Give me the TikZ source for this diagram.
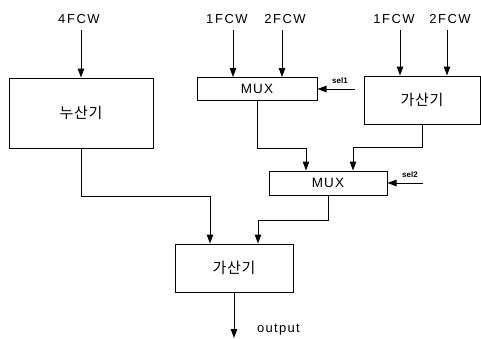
\documentclass[tikz,border=0pt]{standalone}
\usepackage{fontspec}
\setmainfont{Liberation Sans}
\newfontfamily\kor{Noto Sans CJK KR}
\usetikzlibrary{arrows.meta,calc}
\begin{document}
\begin{tikzpicture}[x=1pt,y=-1pt,
  blk/.style={draw,line width=1pt,inner sep=0pt},
  lbl/.style={inner sep=0pt,font=\fontsize{13}{13}\selectfont\addfontfeature{LetterSpace=12}},
  kortxt/.style={font=\kor\fontsize{15}{15}\selectfont\addfontfeature{LetterSpace=4}},
  seltxt/.style={inner sep=0pt,font=\bfseries\fontsize{8}{8}\selectfont},
  arr/.style={line width=1pt,-{Triangle[length=9pt,width=6.5pt]}},
  ln/.style={line width=1pt}]
\useasboundingbox (0,0) rectangle (481,338);
% boxes
\node[blk,minimum width=144pt,minimum height=70pt,kortxt] (acc) at (81,113) {누산기};
\node[blk,minimum width=120pt,minimum height=23pt,font=\fontsize{13.5}{13.5}\selectfont\addfontfeature{LetterSpace=8}] (mux1) at (257,89) {MUX};
\node[blk,minimum width=116pt,minimum height=48pt,kortxt] (add1) at (422,100) {가산기};
\node[blk,minimum width=118pt,minimum height=24pt,font=\fontsize{13.5}{13.5}\selectfont\addfontfeature{LetterSpace=8}] (mux2) at (328,183) {MUX};
\node[blk,minimum width=118pt,minimum height=48pt,kortxt] (add2) at (234,268) {가산기};
% input labels
\node[lbl] (l4) at (79,19) {4FCW};
\node[lbl] (l1a) at (227,19) {1FCW};
\node[lbl] (l2a) at (285,19) {2FCW};
\node[lbl] (l1b) at (394,19) {1FCW};
\node[lbl] (l2b) at (450,19) {2FCW};
\node[seltxt] (s1) at (340,81) {sel1};
\node[seltxt] (s2) at (410,175) {sel2};
\node[inner sep=0pt,anchor=west,font=\fontsize{13}{13}\selectfont\addfontfeature{LetterSpace=10}] (outl) at (257,330) {output};
% input arrow start points
\coordinate (i4) at (81,30);
\coordinate (i1a) at (233,30);
\coordinate (i2a) at (282,30);
\coordinate (i1b) at (400,30);
\coordinate (i2b) at (447,30);
\draw[arr] (i4) -- (acc.north);
\draw[arr] (i1a) -- (i1a |- mux1.north);
\draw[arr] (i2a) -- (i2a |- mux1.north);
\draw[arr] (i1b) -- (i1b |- add1.north);
\draw[arr] (i2b) -- (i2b |- add1.north);
\coordinate (s1e) at (355,89);
\coordinate (s2e) at (423,183);
\draw[arr] (s1e) -- (mux1.east);
\draw[arr] (s2e) -- (mux2.east);
% internal connections
\draw[arr] (mux1.south) -- ++(0,47) -| ([xshift=-22pt]mux2.north);
\draw[arr] (add1.south) -- ++(0,23) -| ([xshift=25pt]mux2.north);
\draw[arr] (mux2.south) -- ++(0,25) -| ([xshift=24pt]add2.north);
\draw[arr] (acc.south) -- ++(0,48) -| ([xshift=-24pt]add2.north);
\coordinate (outp) at (234,338);
\draw[arr] (add2.south) -- (outp);
\end{tikzpicture}
\end{document}
